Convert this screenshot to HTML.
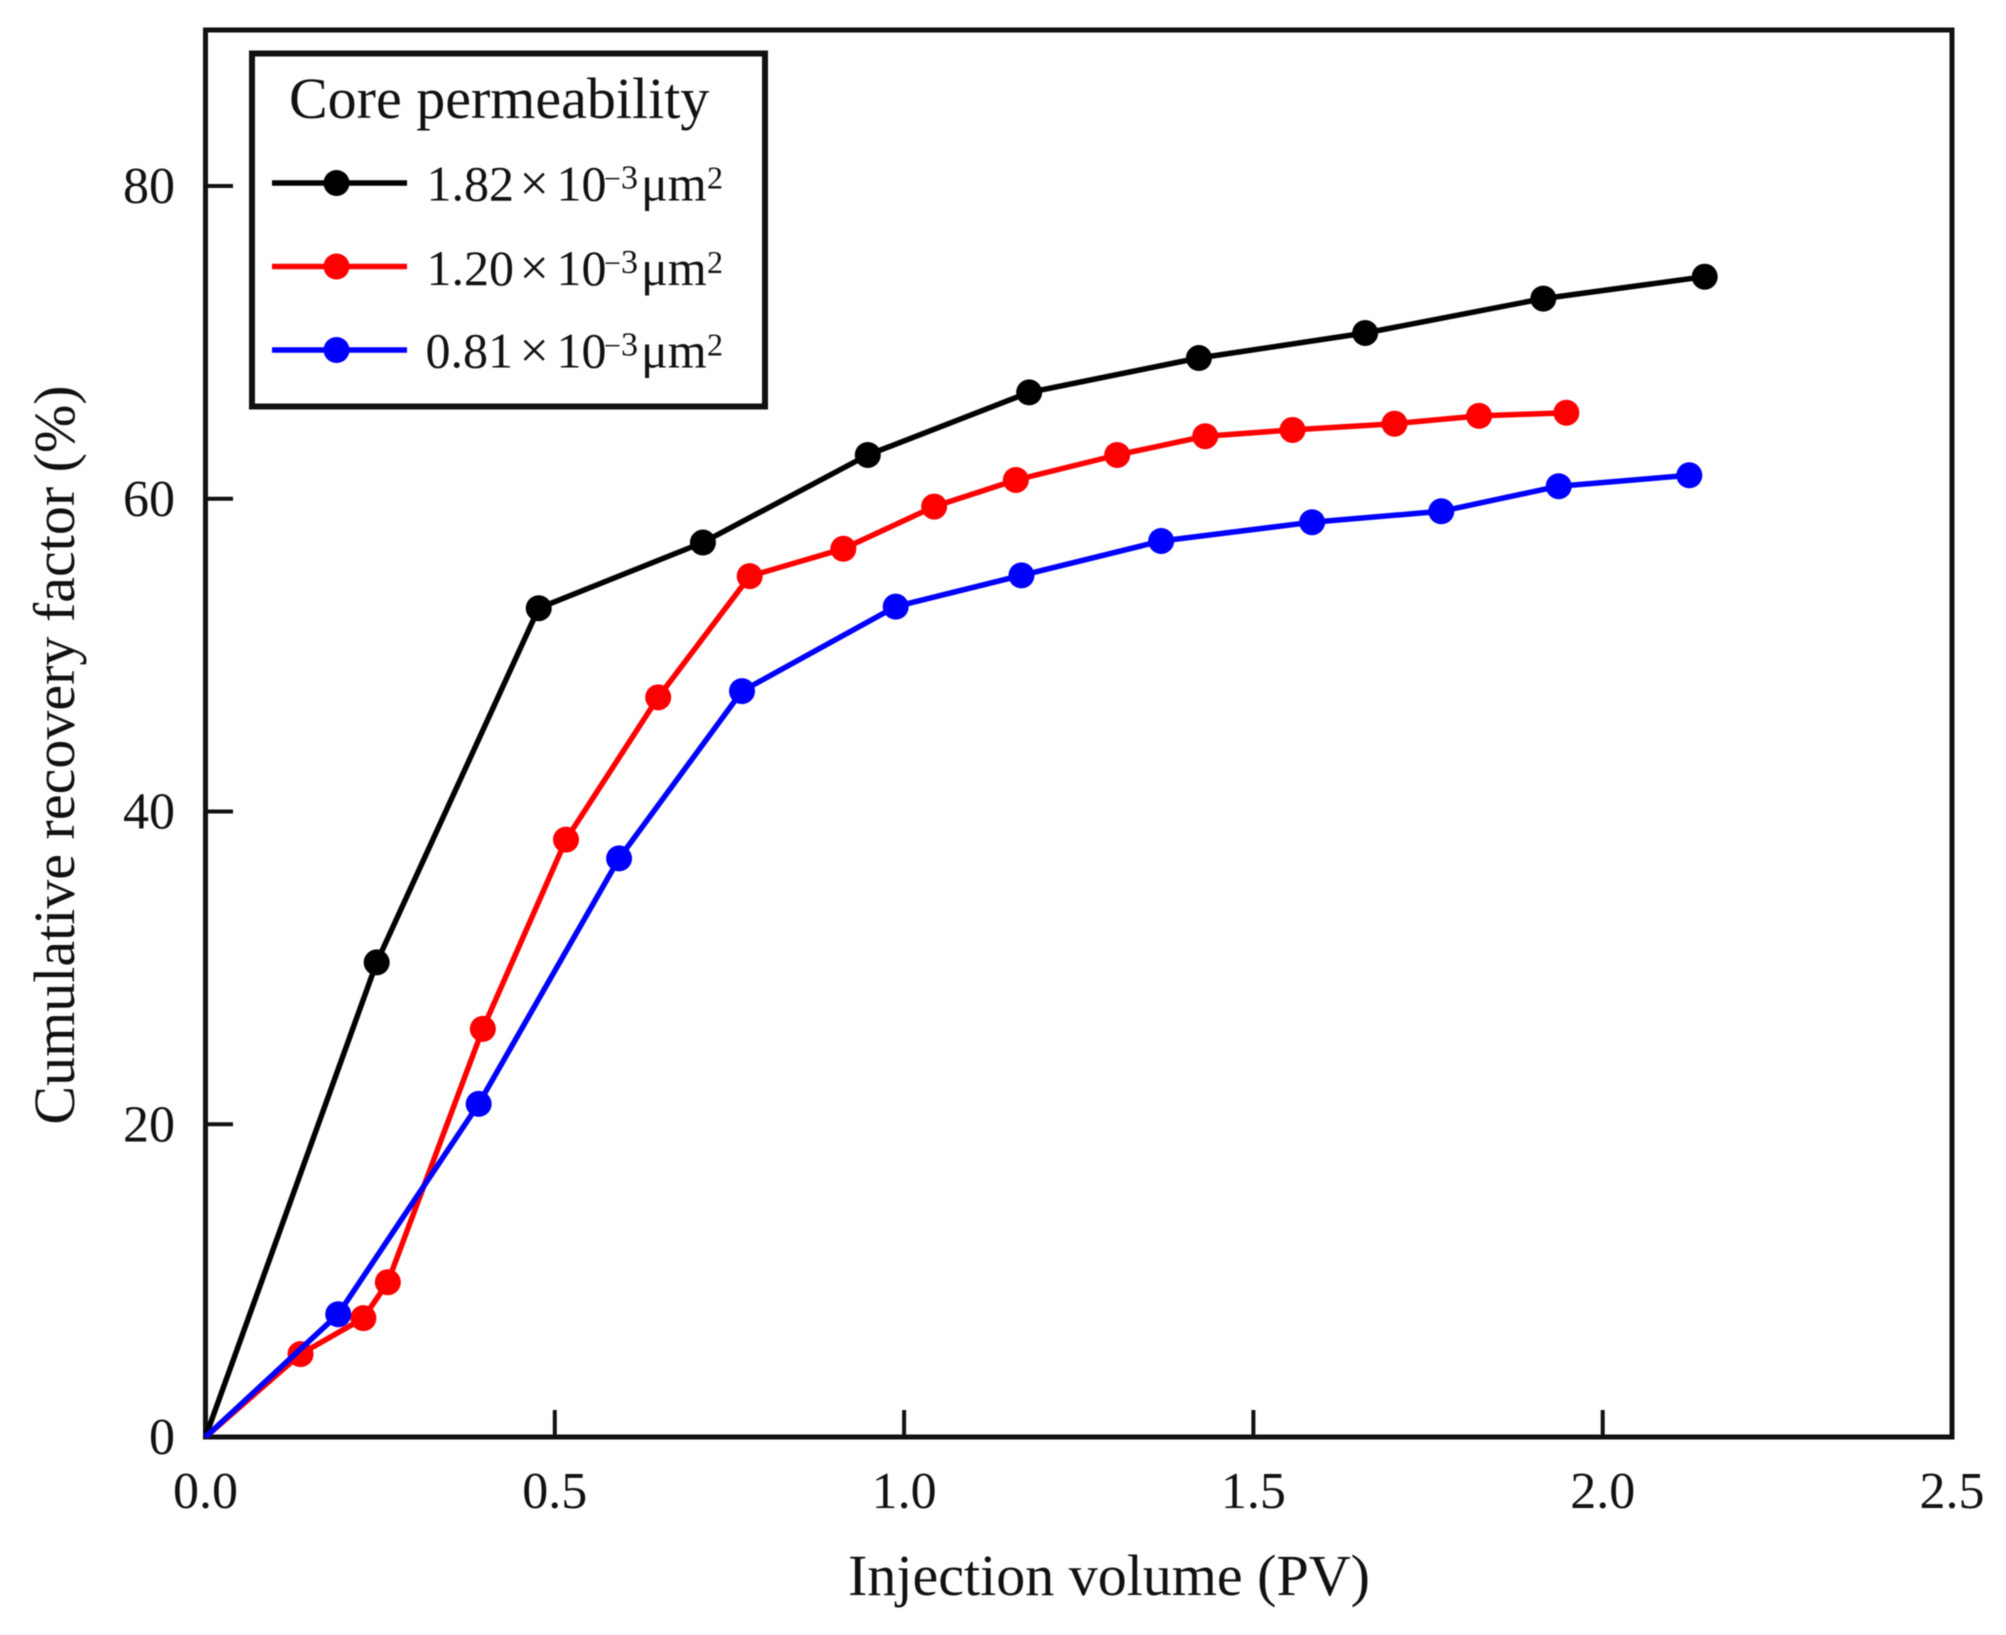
<!DOCTYPE html>
<html lang="en">
<head>
<meta charset="utf-8">
<title>Cumulative recovery factor vs injection volume</title>
<style>
html,body{margin:0;padding:0;background:#fff;}
svg{display:block;filter:blur(0.6px);}
text{font-family:"Liberation Serif",serif;fill:#111;}
</style>
</head>
<body>
<svg id="chart" xmlns="http://www.w3.org/2000/svg" width="2006" height="1635" viewBox="0 0 2006 1635">
  <rect x="0" y="0" width="2006" height="1635" fill="#fff"/>
  <g id="ticks"></g>
  <rect x="205.5" y="30" width="1746.5" height="1407" fill="none" stroke="#111" stroke-width="5"/>
  <g id="series"></g>
  <text x="1109" y="1595" font-size="58" text-anchor="middle">Injection volume (PV)</text>
  <text transform="translate(74,755) rotate(-90)" font-size="58" text-anchor="middle">Cumulative recovery factor (%)</text>

  <g>
    <rect x="252" y="53.5" width="513" height="353" fill="#fff" stroke="#111" stroke-width="6"/>
    <text x="289" y="118" font-size="58">Core permeability</text>

    <g>
      <line x1="272" y1="183" x2="407" y2="183" stroke="#000" stroke-width="5.5"/>
      <circle cx="336.5" cy="183" r="13" fill="#000"/>
      <text y="200.5" font-size="50"><tspan x="426.5">1.82</tspan><tspan x="519.5" font-size="52">×</tspan><tspan x="556.5">10</tspan><tspan x="604" dy="-12" font-size="30">−</tspan><tspan x="621" font-size="34">3</tspan><tspan x="641" dy="12">μm</tspan><tspan x="707" dy="-12" font-size="32">2</tspan></text>
    </g>
    <g>
      <line x1="272" y1="266.5" x2="407" y2="266.5" stroke="#f00" stroke-width="5.5"/>
      <circle cx="336.5" cy="266.5" r="13" fill="#f00"/>
      <text y="285" font-size="50"><tspan x="426.5">1.20</tspan><tspan x="519.5" font-size="52">×</tspan><tspan x="556.5">10</tspan><tspan x="604" dy="-12" font-size="30">−</tspan><tspan x="621" font-size="34">3</tspan><tspan x="641" dy="12">μm</tspan><tspan x="707" dy="-12" font-size="32">2</tspan></text>
    </g>
    <g>
      <line x1="272" y1="350" x2="407" y2="350" stroke="#00f" stroke-width="5.5"/>
      <circle cx="336.5" cy="350" r="13" fill="#00f"/>
      <text y="367.5" font-size="50"><tspan x="425.5">0.81</tspan><tspan x="519.5" font-size="52">×</tspan><tspan x="556.5">10</tspan><tspan x="604" dy="-12" font-size="30">−</tspan><tspan x="621" font-size="34">3</tspan><tspan x="641" dy="12">μm</tspan><tspan x="707" dy="-12" font-size="32">2</tspan></text>
    </g>
  </g>
</svg>
<script>
const xTickLabels = ["0.0", "0.5", "1.0", "1.5", "2.0", "2.5"];
const yTickLabels = ["0", "20", "40", "60", "80"];

const blackX = [0, 0.245, 0.477, 0.712, 0.948, 1.179, 1.422, 1.66, 1.915, 2.146];
const blackY = [0, 30.35, 53.0, 57.2, 62.8, 66.8, 69.0, 70.6, 72.8, 74.2];

const redX = [0, 0.136, 0.226, 0.261, 0.397, 0.516, 0.648, 0.779, 0.913, 1.043, 1.16, 1.305, 1.431, 1.556, 1.702, 1.823, 1.948];
const redY = [0, 5.3, 7.6, 9.9, 26.1, 38.2, 47.3, 55.05, 56.8, 59.5, 61.2, 62.8, 64.0, 64.4, 64.8, 65.3, 65.5];

const blueX = [0, 0.19, 0.391, 0.592, 0.768, 0.988, 1.168, 1.368, 1.584, 1.769, 1.937, 2.124];
const blueY = [0, 7.85, 21.3, 37.0, 47.7, 53.1, 55.1, 57.3, 58.5, 59.2, 60.8, 61.5];

const NS = "http://www.w3.org/2000/svg";
function xScale(v) { return 205.5 + v * (1952 - 205.5) / 2.5; }
function yScale(v) { return 1437 - v * (1437 - 186) / 80; }

function make(tag, attrs, parent) {
  const el = document.createElementNS(NS, tag);
  for (const k in attrs) el.setAttribute(k, attrs[k]);
  parent.appendChild(el);
  return el;
}

const tickGroup = document.getElementById("ticks");
xTickLabels.forEach(function (label) {
  const px = xScale(parseFloat(label));
  const tick = make("line", { x1: px, y1: 1437, x2: px, y2: 1410, stroke: "#111", "stroke-width": 4 }, tickGroup);
  
  
  const text = make("text", { x: px, y: 1508, "font-size": 52, "text-anchor": "middle" }, tickGroup);
  
  
  text.textContent = label;
});
yTickLabels.forEach(function (label) {
  const py = yScale(parseFloat(label));
  const tick = make("line", { x1: 205.5, y1: py, x2: 233, y2: py, stroke: "#111", "stroke-width": 4 }, tickGroup);
  
  
  const text = make("text", { x: 175, y: py + 17, "font-size": 52, "text-anchor": "end" }, tickGroup);
  
  
  text.textContent = label;
});

function drawSeries(name, color, xs, ys) {
  const host = document.getElementById("series");
  const g = make("g", {}, host);
  
  
  const pts = xs.map(function (v, i) { return xScale(v).toFixed(1) + "," + yScale(ys[i]).toFixed(1); }).join(" ");
  const line = make("polyline", { points: pts, fill: "none", stroke: color, "stroke-width": 5.5, "stroke-linejoin": "round" }, g);
  
  
  xs.forEach(function (v, i) {
    if (v === 0) return;
    const dot = make("circle", { cx: xScale(v), cy: yScale(ys[i]), r: 13, fill: color }, g);
    
    
  });
}

drawSeries("black", "#000", blackX, blackY);
drawSeries("red", "#f00", redX, redY);
drawSeries("blue", "#00f", blueX, blueY);
</script>
</body>
</html>
